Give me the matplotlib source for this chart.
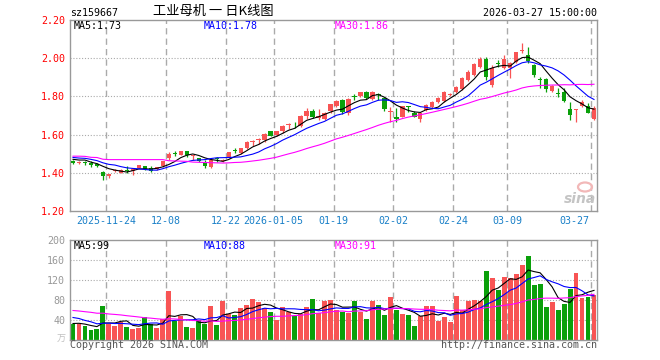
import matplotlib
matplotlib.use("Agg")
import matplotlib.pyplot as plt
from matplotlib.patches import Ellipse
import numpy as np
import pandas as pd

plt.rcParams['font.family'] = ['DejaVu Sans Mono', 'Noto Sans CJK SC']

# ---------------- data ----------------
code = "sz159667"
title = "工业母机 一 日K线图"
stamp = "2026-03-27 15:00:00"

open_ = [1.463, 1.452, 1.455, 1.452, 1.446, 1.403, 1.385, 1.408, 1.399, 1.413,
         1.408, 1.425, 1.434, 1.425, 1.418, 1.434, 1.478, 1.500, 1.495, 1.512,
         1.490, 1.478, 1.458, 1.432, 1.472, 1.460, 1.481, 1.516, 1.502, 1.528,
         1.563, 1.570, 1.572, 1.619, 1.596, 1.619, 1.648, 1.656, 1.645, 1.697,
         1.725, 1.685, 1.680, 1.725, 1.748, 1.781, 1.711, 1.801, 1.802, 1.825,
         1.787, 1.812, 1.790, 1.720, 1.694, 1.694, 1.748, 1.715, 1.680, 1.729,
         1.746, 1.772, 1.776, 1.808, 1.825, 1.840, 1.884, 1.912, 1.956, 1.994,
         1.860, 1.975, 1.950, 1.947, 1.978, 2.040, 2.017, 1.964, 1.890, 1.889,
         1.830, 1.818, 1.825, 1.732, 1.730, 1.752, 1.750, 1.683]
high = [1.468, 1.462, 1.463, 1.462, 1.453, 1.411, 1.396, 1.420, 1.418, 1.434,
        1.425, 1.441, 1.436, 1.434, 1.432, 1.462, 1.509, 1.512, 1.514, 1.515,
        1.495, 1.480, 1.467, 1.476, 1.481, 1.470, 1.510, 1.528, 1.530, 1.566,
        1.572, 1.584, 1.610, 1.621, 1.621, 1.650, 1.662, 1.668, 1.702, 1.738,
        1.732, 1.732, 1.718, 1.762, 1.781, 1.785, 1.790, 1.810, 1.823, 1.830,
        1.827, 1.818, 1.795, 1.746, 1.738, 1.752, 1.750, 1.725, 1.720, 1.760,
        1.775, 1.795, 1.830, 1.818, 1.855, 1.900, 1.940, 1.975, 2.005, 2.005,
        1.962, 1.990, 2.015, 1.980, 2.034, 2.078, 2.060, 1.972, 1.903, 1.895,
        1.862, 1.842, 1.842, 1.772, 1.735, 1.780, 1.766, 1.748]
low = [1.447, 1.446, 1.443, 1.429, 1.429, 1.364, 1.373, 1.405, 1.397, 1.399,
       1.390, 1.423, 1.416, 1.403, 1.415, 1.430, 1.469, 1.487, 1.493, 1.481,
       1.469, 1.458, 1.423, 1.427, 1.458, 1.455, 1.478, 1.502, 1.500, 1.525,
       1.540, 1.551, 1.563, 1.592, 1.594, 1.607, 1.627, 1.633, 1.638, 1.680,
       1.685, 1.676, 1.676, 1.715, 1.745, 1.708, 1.703, 1.781, 1.799, 1.785,
       1.780, 1.781, 1.725, 1.668, 1.668, 1.690, 1.716, 1.690, 1.668, 1.725,
       1.740, 1.765, 1.770, 1.800, 1.820, 1.835, 1.880, 1.905, 1.950, 1.888,
       1.850, 1.955, 1.945, 1.895, 1.975, 2.025, 1.973, 1.903, 1.842, 1.825,
       1.825, 1.798, 1.772, 1.676, 1.668, 1.745, 1.712, 1.678]
close = [1.452, 1.459, 1.452, 1.443, 1.434, 1.382, 1.396, 1.416, 1.416, 1.410,
         1.420, 1.439, 1.418, 1.411, 1.429, 1.460, 1.499, 1.497, 1.512, 1.492,
         1.493, 1.460, 1.436, 1.467, 1.470, 1.467, 1.508, 1.512, 1.528, 1.563,
         1.566, 1.572, 1.603, 1.594, 1.619, 1.645, 1.652, 1.653, 1.697, 1.725,
         1.694, 1.697, 1.715, 1.758, 1.778, 1.718, 1.785, 1.799, 1.821, 1.792,
         1.825, 1.809, 1.732, 1.725, 1.681, 1.750, 1.744, 1.694, 1.711, 1.755,
         1.772, 1.790, 1.825, 1.812, 1.851, 1.895, 1.928, 1.970, 1.994, 1.903,
         1.950, 1.972, 1.994, 1.975, 2.032, 2.043, 1.985, 1.912, 1.887, 1.837,
         1.857, 1.815, 1.778, 1.703, 1.735, 1.772, 1.715, 1.741]
volume = [32, 32, 28, 20, 22, 68, 32, 28, 37, 26,
          23, 24, 46, 33, 24, 42, 98, 39, 49, 26,
          24, 40, 33, 68, 30, 78, 53, 50, 64, 70,
          82, 77, 64, 56, 40, 66, 56, 48, 52, 66,
          82, 54, 78, 80, 60, 56, 55, 79, 57, 42,
          78, 70, 50, 86, 60, 52, 50, 28, 48, 68,
          68, 38, 46, 36, 88, 60, 78, 80, 78, 138,
          124, 100, 126, 124, 132, 150, 168, 110, 112, 66,
          76, 60, 72, 102, 134, 84, 86, 90]
# sessions before the window (feed the moving averages only)
prior_close = [1.459, 1.482, 1.593, 1.464, 1.652, 1.456, 1.416, 1.416, 1.410, 1.420,
               1.439, 1.418, 1.411, 1.429, 1.460, 1.679, 1.527, 1.542, 1.522, 1.613,
               1.490, 1.466, 1.497, 1.500, 1.497, 1.478, 1.452, 1.498, 1.473]
prior_volume = [62, 70, 58, 75, 66, 80, 55, 68, 72, 60,
                64, 90, 58, 62, 70, 66, 54, 74, 60, 56,
                52, 66, 48, 62, 57, 30, 36, 34, 33]
holidays = ["2026-01-01", "2026-01-02", "2026-02-16", "2026-02-17", "2026-02-18",
            "2026-02-19", "2026-02-20", "2026-02-23"]
tick_dates = ["2025-11-24", "2025-12-08", "2025-12-22", "2026-01-05", "2026-01-19",
              "2026-02-02", "2026-02-24", "2026-03-09", "2026-03-27"]
tick_labels = ["2025-11-24", "12-08", "12-22", "2026-01-05", "01-19",
               "02-02", "02-24", "03-09", "03-27"]
price_ticks = [1.20, 1.40, 1.60, 1.80, 2.00, 2.20]
vol_ticks = [40, 80, 120, 160, 200]

# ---------------- derived ----------------
days = pd.bdate_range("2025-11-14", "2026-03-27")
days = days[~days.isin(pd.to_datetime(holidays))]
dates = [d.strftime("%Y-%m-%d") for d in days]
n = len(close)
x = np.arange(n)
o = np.array(open_); c = np.array(close); h = np.array(high); l = np.array(low)
v = np.array(volume, dtype=float)
up = c >= o
RED = '#f85454'
GREEN = '#0aa00a'
cols = np.where(up, RED, GREEN)

cs = pd.Series(prior_close + close)
vs = pd.Series(prior_volume + volume, dtype=float)
k = len(prior_close)
ma = {m: cs.rolling(m).mean().values[k:] for m in (5, 10, 30)}
vma = {m: vs.rolling(m).mean().values[k:] for m in (5, 10, 30)}
ma_cols = {5: 'black', 10: '#0000ff', 30: '#ff00ff'}

W, H = 660, 360
fig = plt.figure(figsize=(6.6, 3.6), dpi=100)
L, R = 70, 597
ax = fig.add_axes([L / W, 1 - 211 / H, (R - L) / W, 191 / H])
axv = fig.add_axes([L / W, 1 - 340 / H, (R - L) / W, 100 / H])

tick_idx = [dates.index(d) for d in tick_dates]
GRID = '#aaaaaa'
for a in (ax, axv):
    a.set_xlim(-0.5, n - 0.5)
    for s in a.spines.values():
        s.set_color('#999999')
        s.set_linewidth(1.0)
    for ti in tick_idx:
        a.axvline(ti - 0.5, color=GRID, lw=1.0, ls=(0, (4.5, 3)), zorder=0)
    a.set_xticks([])
    a.tick_params(axis='y', length=0, pad=3.5)

# price panel
ax.set_ylim(1.20, 2.20)
ax.set_yticks(price_ticks)
ax.set_yticklabels([f"{t:.2f}" for t in price_ticks], color='red', fontsize=7.2)
for t in price_ticks[1:-1]:
    ax.axhline(t, color=GRID, lw=0.8, ls=(0, (1, 1.6)), zorder=0)
ax.vlines(x, l, h, colors=cols, lw=0.9, zorder=2)
body = np.maximum(np.abs(c - o), 0.005)
ax.bar(x, body, bottom=np.minimum(o, c), width=0.72, color=cols, lw=0, zorder=3)
for m in (5, 10, 30):
    ax.plot(x, ma[m], color=ma_cols[m], lw=0.8, zorder=4)

# volume panel
axv.set_ylim(0, 200)
axv.set_yticks(vol_ticks)
axv.set_yticklabels([str(t) for t in vol_ticks], color='#999999', fontsize=7.2)
for t in vol_ticks[:-1]:
    axv.axhline(t, color=GRID, lw=0.8, ls=(0, (1, 1.6)), zorder=0)
axv.bar(x, v, width=0.82, color=cols, lw=0, zorder=2)
for m in (5, 10, 30):
    axv.plot(x, vma[m], color=ma_cols[m], lw=0.8, zorder=4)

# date labels
for j, (ti, lab) in enumerate(zip(tick_idx, tick_labels)):
    last = j == len(tick_idx) - 1
    ax.text(ti - 0.5 - (0.2 if last else 0), -0.052, lab, transform=ax.get_xaxis_transform(),
            ha='right' if last else 'center', va='center', fontsize=7.2, color='#1a80c8')

def ftxt(px, py, s, **kw):
    fig.text(px / W, 1 - py / H, s, **kw)

ftxt(70, 13, code, fontsize=7.2, va='center', ha='left', color='black')
ftxt(213, 11.5, title, fontsize=9.5, va='center', ha='center', color='black',
     family=['Noto Sans CJK SC', 'DejaVu Sans'])
ftxt(597, 13, stamp, fontsize=7.2, va='center', ha='right', color='black')

ftxt(74, 26, f"MA5:{ma[5][-1]:.2f}", fontsize=7.2, va='center', color='black')
ftxt(204, 26, f"MA10:{ma[10][-1]:.2f}", fontsize=7.2, va='center', color='#0000ff')
ftxt(335, 26, f"MA30:{ma[30][-1]:.2f}", fontsize=7.2, va='center', color='#ff00ff')
ftxt(74, 246, f"MA5:{vma[5][-1]:.0f}", fontsize=7.2, va='center', color='black')
ftxt(204, 246, f"MA10:{vma[10][-1]:.0f}", fontsize=7.2, va='center', color='#0000ff')
ftxt(335, 246, f"MA30:{vma[30][-1]:.0f}", fontsize=7.2, va='center', color='#ff00ff')

ftxt(66, 339, "万", fontsize=6.5, va='center', ha='right', color='#c0c0c0',
     family=['Noto Sans CJK SC', 'DejaVu Sans'])
ftxt(70, 345.5, "Copyright 2026 SINA.COM", fontsize=7.2, va='center', ha='left', color='#555555')
ftxt(597, 345.5, "http://finance.sina.com.cn", fontsize=7.2, va='center', ha='right', color='#555555')

# sina watermark
fig.patches.append(Ellipse((585 / W, 1 - 187 / H), 14 / W, 9 / H, transform=fig.transFigure,
                           facecolor='none', edgecolor='#f2b8b8', lw=1.6, zorder=5))
ftxt(596, 199, "sina", fontsize=10, fontweight='bold', style='italic', va='center', ha='right',
     color='#c4c4c4', family=['DejaVu Sans'])

fig.savefig("out.png", dpi=100)
